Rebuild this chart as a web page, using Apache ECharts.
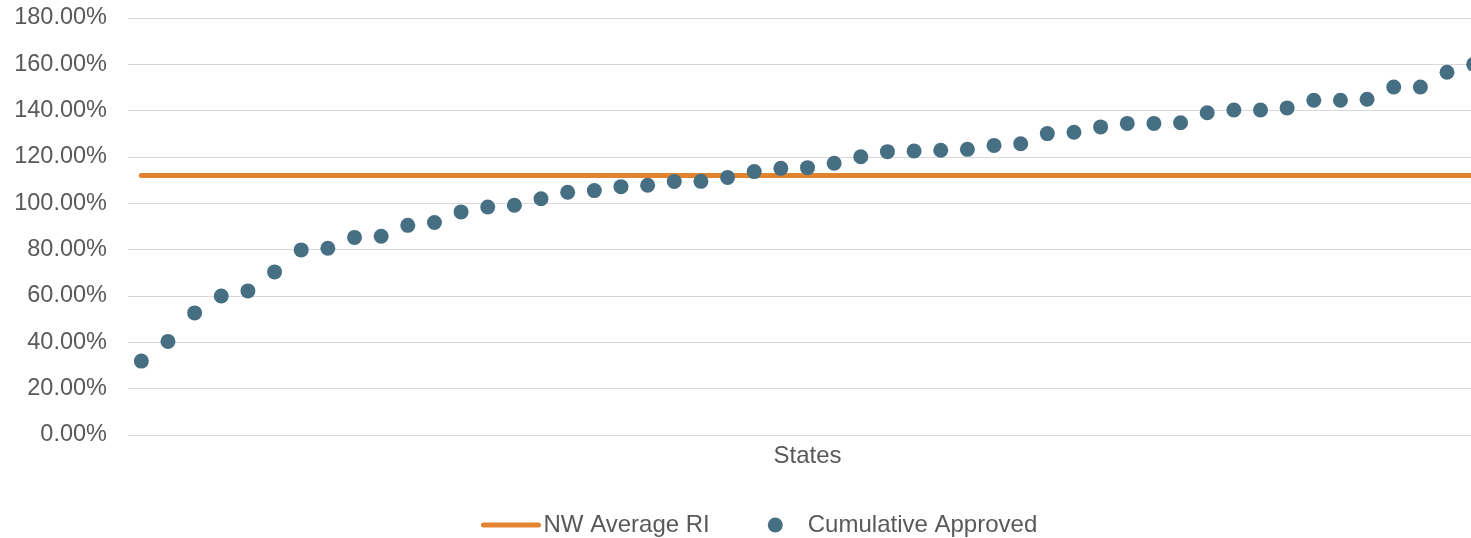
<!DOCTYPE html>
<html>
<head>
<meta charset="utf-8">
<script src="https://cdn.jsdelivr.net/npm/echarts@6/dist/echarts.min.js"></script>
<style>
  html, body { margin: 0; padding: 0; background: #fff; }
  #chart { width: 1471px; height: 538px; }
</style>
</head>
<body>
<div id="chart"></div>
<script>
// 51 states, sorted by cumulative approved value
const categories = [];
for (let i = 1; i <= 51; i++) categories.push('State ' + i);

const cumulativeApproved = [
  31.9, 40.4, 52.7, 60.0, 62.2, 70.4, 79.9, 80.6, 85.3, 85.8,
  90.5, 91.7, 96.3, 98.4, 99.2, 102.0, 104.8, 105.5, 107.2, 107.8,
  109.4, 109.5, 111.2, 113.7, 115.1, 115.4, 117.3, 120.1, 122.3, 122.6,
  122.9, 123.3, 125.0, 125.7, 130.1, 130.7, 133.0, 134.5, 134.5, 134.8,
  139.1, 140.3, 140.3, 141.2, 144.5, 144.5, 144.9, 150.2, 150.2, 156.6,
  160.0
];

const nwAverageRI = 112;

const yMin = 0;
const yMax = 180;
const yStep = 20;

const chart = echarts.init(document.getElementById('chart'));

chart.setOption({
  animation: false,
  textStyle: { fontFamily: 'Liberation Sans, Arial, sans-serif' },
  grid: {
    left: 128,
    width: 1359,   // plot runs past the right edge, as in the original crop
    top: 18,
    bottom: 103,
    outerBoundsMode: 'none'
  },
  legend: {
    left: 476,
    top: 508,
    itemWidth: 55,
    itemHeight: 15,
    itemGap: 58,
    textStyle: { fontSize: 24, color: '#595959' },
    data: [
      {
        name: 'NW Average RI',
        itemStyle: { opacity: 0 },
        lineStyle: { width: 5, cap: 'round', color: '#E2842F' }
      },
      { name: 'Cumulative Approved', icon: 'circle' }
    ]
  },
  xAxis: {
    type: 'category',
    data: categories,
    boundaryGap: true,
    name: 'States',
    nameLocation: 'middle',
    nameGap: 9,
    nameTextStyle: { fontSize: 24, color: '#595959', verticalAlign: 'top' },
    axisLine: { show: false },
    axisTick: { show: false },
    axisLabel: { show: false }
  },
  yAxis: {
    type: 'value',
    min: yMin,
    max: yMax,
    interval: yStep,
    axisLine: { show: false },
    axisTick: { show: false },
    axisLabel: {
      fontSize: 23.5,
      color: '#595959',
      margin: 21,
      padding: [5, 0, 0, 0],
      formatter: v => v.toFixed(2) + '%'
    },
    splitLine: { lineStyle: { color: '#d9d9d9', width: 1 } }
  },
  series: [
    {
      name: 'NW Average RI',
      type: 'line',
      symbol: 'none',
      data: categories.map(() => nwAverageRI),
      lineStyle: { color: '#E2842F', width: 5, cap: 'round' },
      itemStyle: { color: '#E2842F' },
      z: 2
    },
    {
      name: 'Cumulative Approved',
      type: 'scatter',
      symbol: 'circle',
      symbolSize: 15,
      data: cumulativeApproved,
      itemStyle: { color: '#466F83', opacity: 1 },
      z: 3
    }
  ]
});
</script>
</body>
</html>
